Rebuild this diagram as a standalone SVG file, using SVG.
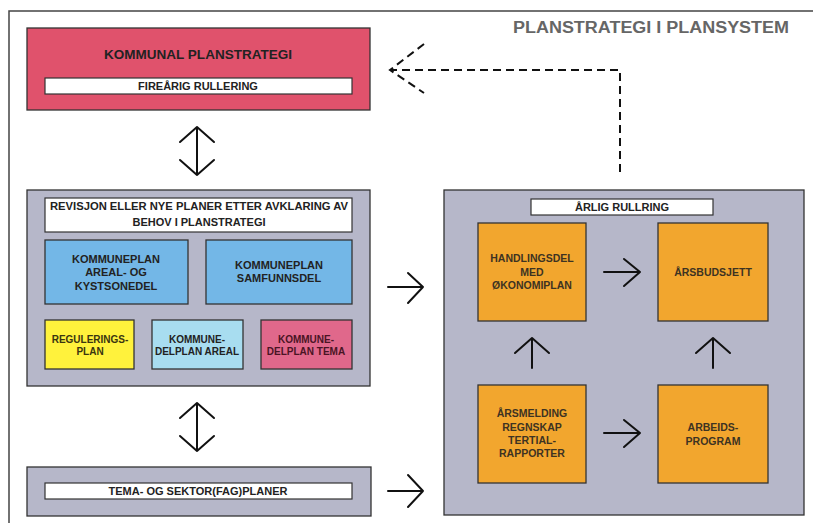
<svg xmlns="http://www.w3.org/2000/svg" width="813" height="523" viewBox="0 0 813 523">
<style>
text{font-family:"Liberation Sans",Arial,sans-serif;font-weight:bold;fill:#222;text-anchor:middle}
.t{font-size:11px}
.s{font-size:10px}
.o{fill:#3d3322;font-size:10.5px}
.box{stroke:#333;stroke-width:1.3}
.white{fill:#fff;stroke:#333;stroke-width:1.2}
.grey{fill:#B6B7C9}
.orange{fill:#F2A62E}
.arr{fill:none;stroke:#111;stroke-width:2;stroke-linecap:round;stroke-linejoin:round}
.dash{fill:none;stroke:#111;stroke-width:2;stroke-dasharray:8,5}
</style>
<rect width="813" height="523" fill="#fff"/>
<g id="frame">
<path d="M813 11 H9 V523" fill="none" stroke="#444" stroke-width="1.5"/>
<text x="651" y="33" textLength="276" lengthAdjust="spacingAndGlyphs" style="font-size:16px;fill:#666">PLANSTRATEGI I PLANSYSTEM</text>
</g>
<g id="kommunal-planstrategi">
<rect class="box" x="27" y="28" width="343" height="82" fill="#E0526C"/>
<text x="198" y="59" textLength="188" lengthAdjust="spacingAndGlyphs" style="font-size:12.5px">KOMMUNAL PLANSTRATEGI</text>
<rect class="white" x="45" y="78" width="307" height="16"/>
<text class="t" x="198" y="90">FIREÅRIG RULLERING</text>
</g>
<g id="revisjon">
<rect class="box grey" x="27" y="190" width="343" height="196"/>
<rect class="white" x="45" y="198" width="307" height="34"/>
<text class="t" x="199" y="210" textLength="298" lengthAdjust="spacingAndGlyphs">REVISJON ELLER NYE PLANER ETTER AVKLARING AV</text>
<text class="t" x="199" y="226">BEHOV I PLANSTRATEGI</text>
</g>
<g id="kommuneplan-areal">
<rect class="box" x="45" y="240" width="143" height="64" fill="#73B7E7"/>
<text class="t" x="116" y="263">KOMMUNEPLAN</text>
<text class="t" x="116" y="276">AREAL- OG</text>
<text class="t" x="116" y="290">KYSTSONEDEL</text>
</g>
<g id="kommuneplan-samfunnsdel">
<rect class="box" x="206" y="240" width="146" height="64" fill="#73B7E7"/>
<text class="t" x="279" y="269">KOMMUNEPLAN</text>
<text class="t" x="279" y="282">SAMFUNNSDEL</text>
</g>
<g id="reguleringsplan">
<rect class="box" x="45" y="320" width="89" height="49" fill="#FFF23C"/>
<text class="s" x="90" y="343" style="fill:#3a3510">REGULERINGS-</text>
<text class="s" x="90" y="355" style="fill:#3a3510">PLAN</text>
</g>
<g id="kommunedelplan-areal">
<rect class="box" x="152" y="320" width="91" height="49" fill="#A8DDF0"/>
<text class="s" x="197" y="343">KOMMUNE-</text>
<text class="s" x="197" y="355">DELPLAN AREAL</text>
</g>
<g id="kommunedelplan-tema">
<rect class="box" x="261" y="320" width="91" height="49" fill="#E0688B"/>
<text class="s" x="306" y="343" style="fill:#4a1424">KOMMUNE-</text>
<text class="s" x="306" y="355" style="fill:#4a1424">DELPLAN TEMA</text>
</g>
<g id="tema-sektorplaner">
<rect class="box grey" x="27" y="467" width="344" height="49"/>
<rect class="white" x="45" y="483" width="307" height="16"/>
<text class="t" x="198" y="495">TEMA- OG SEKTOR(FAG)PLANER</text>
</g>
<g id="arlig-rullering">
<rect class="box grey" x="444" y="190" width="360" height="325"/>
<rect class="white" x="531" y="199" width="182" height="16"/>
<text class="t" x="622" y="211">ÅRLIG RULLRING</text>
</g>
<g id="handlingsdel">
<rect class="box orange" x="478" y="223" width="108" height="98"/>
<text class="o" x="532" y="262">HANDLINGSDEL</text>
<text class="o" x="532" y="276">MED</text>
<text class="o" x="532" y="289">ØKONOMIPLAN</text>
</g>
<g id="arsbudsjett">
<rect class="box orange" x="658" y="223" width="110" height="98"/>
<text class="o" x="713" y="276">ÅRSBUDSJETT</text>
</g>
<g id="arsmelding">
<rect class="box orange" x="478" y="385" width="108" height="98"/>
<text class="o" x="532" y="417">ÅRSMELDING</text>
<text class="o" x="532" y="431">REGNSKAP</text>
<text class="o" x="532" y="444">TERTIAL-</text>
<text class="o" x="532" y="457">RAPPORTER</text>
</g>
<g id="arbeidsprogram">
<rect class="box orange" x="658" y="385" width="110" height="98"/>
<text class="o" x="713" y="431">ARBEIDS-</text>
<text class="o" x="713" y="445">PROGRAM</text>
</g>
<g id="connectors">
<path class="arr" d="M197 127 V175 M180 142 L197 127 L214 142 M180 160 L197 175 L214 160"/>
<path class="arr" d="M197 403 V451 M180 418 L197 403 L214 418 M180 436 L197 451 L214 436"/>
<path class="arr" d="M388 287 H423 M408 273 L423 287 L408 303"/>
<path class="arr" d="M388 491 H423 M408 475 L423 491 L408 507"/>
<path class="arr" d="M604 272 H640 M624 259 L640 272 L624 286"/>
<path class="arr" d="M604 433 H640 M624 420 L640 433 L624 447"/>
<path class="arr" d="M532 368 V338 M515 353 L532 338 L549 353"/>
<path class="arr" d="M713 368 V338 M696 353 L713 338 L730 353"/>
<path class="dash" d="M620 172 V70 H390"/>
<path class="dash" d="M424 44 L390 70 L424 93"/>
</g>
</svg>
